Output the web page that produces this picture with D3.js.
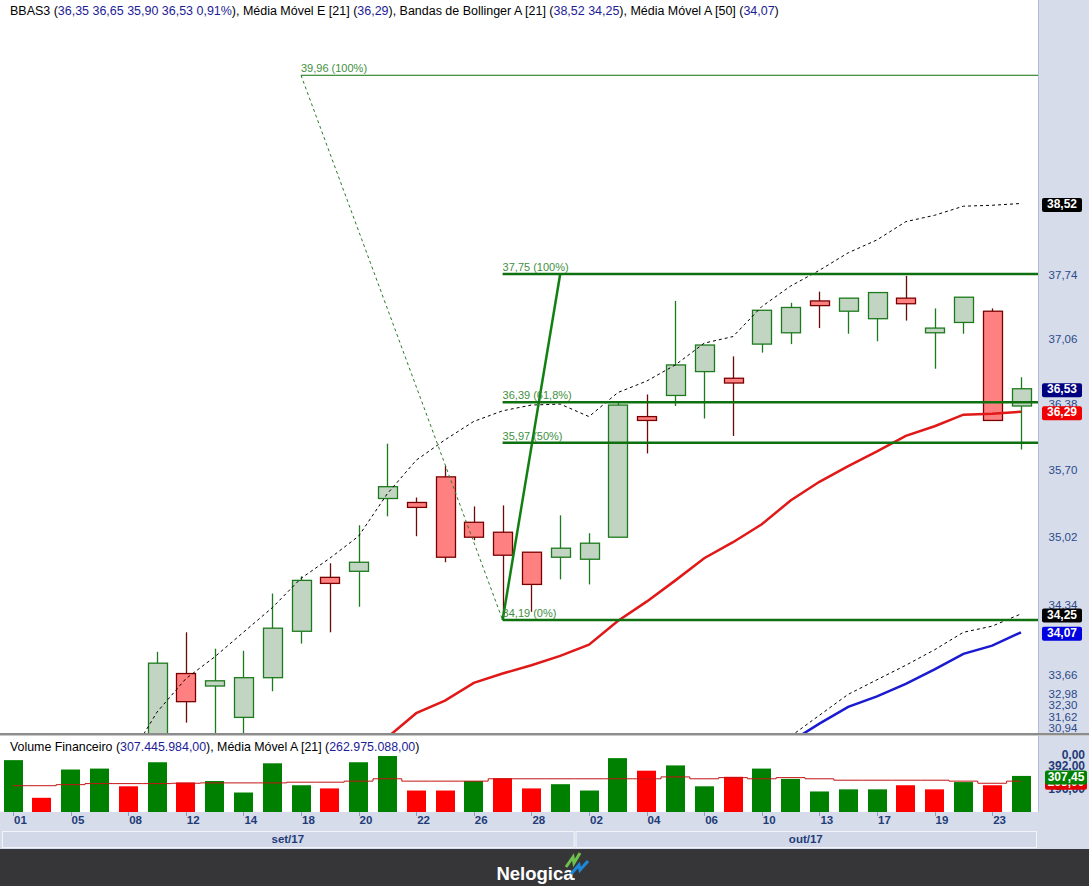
<!doctype html>
<html>
<head>
<meta charset="utf-8">
<script src="https://cdn.jsdelivr.net/npm/d3@7"></script>
<style>
  body { margin: 0; background: #fff; }
  text { font-family: "Liberation Sans", Arial, sans-serif; }
</style>
</head>
<body>
<svg id="chart" width="1089" height="886"></svg>
<script>
// trading days, set/17 .. out/17
const dates = ["01","04","05","06","08","11","12","13","14","15","18","19","20","21","22","25","26","27","28","29",
               "02","03","04","05","06","09","10","11","13","16","17","18","19","20","23","24"];
const months = [{ label: "set/17", first: 0, last: 19 }, { label: "out/17", first: 20, last: 35 }];

// candles (first five sit below the visible price range)
const open  = [null,null,null,null,null, 33.00,33.67,33.55,33.25,33.63,34.08,34.61,34.67,35.40,35.36,35.62,35.16,35.06,34.86,34.81,
               34.79,35.01,36.24,36.46,36.71,36.64,37.00,37.12,37.46,37.35,37.27,37.49,37.12,37.23,37.35,36.35];
const high  = [null,null,null,null,null, 33.88,34.07,33.91,33.89,34.45,34.62,34.75,35.13,35.96,35.41,35.73,35.32,35.33,34.86,35.23,
               35.05,36.38,36.47,37.46,36.99,36.87,37.36,37.44,37.56,37.49,37.55,37.73,37.38,37.50,37.38,36.65];
const low   = [null,null,null,null,null, 32.95,33.20,32.98,33.05,33.50,33.96,34.07,34.32,35.22,35.02,34.76,34.98,34.19,34.27,34.59,
               34.54,35.01,35.86,36.35,36.22,36.04,36.91,37.00,37.17,37.11,37.03,37.25,36.74,37.11,36.20,35.90];
const close = [null,null,null,null,null, 33.77,33.40,33.60,33.63,34.11,34.58,34.55,34.76,35.52,35.31,34.81,35.01,34.83,34.54,34.90,
               34.95,36.36,36.20,36.78,36.99,36.59,37.36,37.39,37.41,37.49,37.55,37.43,37.17,37.50,36.20,36.53];

// indicators
const ema21   = [null,null,null,null,null,null,null,null,null,null,null,null,null, 33.06,33.29,33.41,33.58,33.67,33.75,33.84,
                 33.95,34.18,34.37,34.58,34.80,34.96,35.14,35.38,35.57,35.73,35.88,36.04,36.14,36.26,36.27,36.29];
const bbUpper = [null,null,null,null, 32.85,33.30,33.62,33.83,34.07,34.31,34.60,34.80,35.02,35.45,35.79,36.00,36.19,36.30,36.36,36.37,
                 36.24,36.49,36.61,36.78,37.01,37.08,37.40,37.62,37.79,37.98,38.12,38.32,38.39,38.49,38.50,38.52];
const bbLower = [null,null,null,null,null,null,null,null,null,null,null,null,null,null,null,null,null,null,null,null,
                 null,null,null,null,null,null,null, 33.07,33.27,33.47,33.61,33.75,33.90,34.07,34.13,34.25];
const sma50   = [null,null,null,null,null,null,null,null,null,null,null,null,null,null,null,null,null,null,null,null,
                 null,null,null,null,null,null,null, 33.02,33.19,33.35,33.45,33.57,33.71,33.86,33.94,34.07];

// volume in millions
const volume = [442,121,362,370,219,424,252,264,166,415,228,201,424,477,183,183,264,288,201,237,
                183,459,352,397,219,300,370,282,175,193,193,228,193,255,228,307.45];
const volUp  = [1,0,1,1,0,1,0,1,1,1,1,0,1,1,0,0,1,0,0,1, 1,1,0,1,1,0,1,1,1,1,1,0,0,1,0,1];
const volMa  = [224,224,233,242,242,242,245,248,248,248,254,254,263,283,263,263,263,283,283,283,
                283,283,283,299,283,293,283,293,283,271,271,271,271,263,245,263];
const volHeader = ["307.445.984,00", "262.975.088,00"];

const priceTicks = [37.74, 37.06, 36.38, 35.70, 35.02, 34.34, 33.66, 32.98, 32.30, 31.62, 30.94];
const volTicks = [392, 196];

// fibonacci drawings: [index, price] anchors
const fibA = { from: [10, 39.96], to: [17, 34.19], levels: [1] };
const fibB = { from: [17, 34.19], to: [19, 37.75], levels: [1, 0.618, 0.5, 0] };

const svg = d3.select("#chart");
const W = 1089, H = 886;
const plotR = 1038, mainB = 733, volB = 812;
const lav = "#d6dcea", axisBlue = "#1f3b78";
const narrow = "'Liberation Sans Narrow','DejaVu Sans Condensed',sans-serif";
const fmt = v => d3.format(".2f")(v).replace(".", ",");

const x = d3.scaleBand().domain(d3.range(dates.length)).range([-1.4, 1035.4]);
const cx = i => x(i) + x.bandwidth() / 2;
const y = d3.scaleLog().domain([37.75, 34.19]).range([274, 620]);
const yv = d3.scaleLinear().domain([0, 392]).range([volB, 766]);

// backgrounds
svg.append("rect").attr("width", W).attr("height", H).attr("fill", "#fff");
svg.append("rect").attr("x", plotR).attr("y", 0).attr("width", W - plotR).attr("height", 812).attr("fill", lav);
svg.append("line").attr("x1", plotR + 0.5).attr("x2", plotR + 0.5).attr("y1", 0).attr("y2", 812).attr("stroke", "#b4bcd4");
svg.append("rect").attr("x", 0).attr("y", 812).attr("width", W).attr("height", 37).attr("fill", lav);
svg.append("rect").attr("x", 0).attr("y", 733).attr("width", W).attr("height", 2).attr("fill", "#8c8c8c");
svg.append("rect").attr("x", 0).attr("y", 735).attr("width", W).attr("height", 1).attr("fill", "#c8c8c8");
svg.append("rect").attr("x", 0).attr("y", 849).attr("width", W).attr("height", H - 849).attr("fill", "#363638");

svg.append("clipPath").attr("id", "mainClip").append("rect").attr("width", plotR).attr("height", mainB);
const main = svg.append("g").attr("clip-path", "url(#mainClip)");

// candles
const idx = d3.range(dates.length).filter(i => open[i] != null);
const candle = main.append("g").selectAll("g").data(idx).join("g");
candle.append("line")
  .attr("x1", i => Math.round(cx(i)) + 0.5).attr("x2", i => Math.round(cx(i)) + 0.5)
  .attr("y1", i => y(high[i])).attr("y2", i => y(low[i]))
  .attr("stroke", i => close[i] >= open[i] ? "#1c7a1c" : "#6a0a0a").attr("stroke-width", 1.3);
candle.append("rect")
  .attr("x", i => Math.round(cx(i) - 9.5) + 0.5).attr("width", 19)
  .attr("y", i => y(Math.max(open[i], close[i])))
  .attr("height", i => Math.max(1, Math.abs(y(open[i]) - y(close[i]))))
  .attr("fill", i => close[i] >= open[i] ? "#c2d5c2" : "#ff8080")
  .attr("stroke", i => close[i] >= open[i] ? "#1c7a1c" : "#7a0000").attr("stroke-width", 1.3);

// indicator lines
function series(arr, color, w, dash) {
  const line = d3.line().defined(d => d != null).x((d, i) => cx(i)).y(d => y(d));
  main.append("path").datum(arr).attr("d", line).attr("fill", "none")
    .attr("stroke", color).attr("stroke-width", w).attr("stroke-dasharray", dash || null);
}
series(bbUpper, "#000", 1, "3,3");
series(bbLower, "#000", 1, "3,3");
series(ema21, "#e01818", 2.5);
series(sma50, "#1a1ad0", 2.5);

// fibonacci
function fib(f, thick) {
  const [i0, p0] = f.from, [i1, p1] = f.to;
  main.append("line").attr("x1", cx(i0)).attr("y1", y(p0)).attr("x2", cx(i1)).attr("y2", y(p1))
    .attr("stroke", thick ? "#118011" : "#2a7a2a").attr("stroke-width", thick ? 2.5 : 1)
    .attr("stroke-dasharray", thick ? null : "3,3");
  const lo = Math.min(p0, p1), hi = Math.max(p0, p1);
  f.levels.forEach(l => {
    const v = lo + l * (hi - lo);
    const xs = Math.min(cx(i0), cx(i1));
    main.append("line").attr("x1", xs).attr("x2", plotR).attr("y1", y(v)).attr("y2", y(v))
      .attr("stroke", "#0e700e").attr("stroke-width", thick ? 2.5 : 1);
    main.append("text").attr("x", xs).attr("y", y(v) - 3)
      .attr("font-size", 11).attr("fill", "#3f8f3f")
      .text(`${fmt(v)} (${d3.format(".1~f")(l * 100).replace(".", ",")}%)`);
  });
}
fib(fibA, false);
fib(fibB, true);

// two-colour legend line, sized to the reference width
function legendText(xp, yp, width, parts) {
  const t = svg.append("text").attr("x", xp).attr("y", yp).attr("font-size", 14).attr("font-family", narrow);
  parts.forEach(([s, c]) => t.append("tspan").attr("fill", c).text(s));
  const w = t.node().getComputedTextLength();
  t.attr("font-size", 14 * width / w);
}
const L = close.length - 1;
const chg = (close[L] / close[L - 1] - 1) * 100;
legendText(10, 15, 770,
  [["BBAS3 (", "#000"], [`${fmt(open[L])}  ${fmt(high[L])}  ${fmt(low[L])}  ${fmt(close[L])}  ${fmt(chg)}%`, "#1c1c96"],
   ["), Média Móvel E [21] (", "#000"], [fmt(ema21[L]), "#1c1c96"],
   ["), Bandas de Bollinger A [21] (", "#000"], [`${fmt(bbUpper[L])}  ${fmt(bbLower[L])}`, "#1c1c96"],
   ["), Média Móvel A [50] (", "#000"], [fmt(sma50[L]), "#1c1c96"], [")", "#000"]]);

// price axis labels
const nT = priceTicks.length;
priceTicks.forEach((v, k) => {
  const yy = Math.min(y(v) + 1.5, 729 - (nT - 1 - k) * 11.3);
  svg.append("text").attr("x", 1063).attr("y", yy).attr("text-anchor", "middle")
    .attr("dominant-baseline", "middle").attr("font-size", 11.5).attr("fill", "#2b4a8a").text(fmt(v));
});
[[bbUpper[L], "#000"], [close[L], "#000080"], [ema21[L], "#f00000"], [bbLower[L], "#000"], [sma50[L], "#0000e0"]]
  .forEach(([v, c]) => {
    const yy = y(v) + 1.5;
    svg.append("rect").attr("x", 1042).attr("y", yy - 7).attr("width", 40).attr("height", 14).attr("rx", 2).attr("fill", c);
    svg.append("text").attr("x", 1062).attr("y", yy).attr("text-anchor", "middle").attr("dominant-baseline", "middle")
      .attr("font-size", 12).attr("font-weight", "bold").attr("fill", "#fff").text(fmt(v));
  });

// volume panel
svg.append("g").selectAll("rect").data(volume).join("rect")
  .attr("x", (d, i) => Math.round(cx(i) - 9.5)).attr("width", 19)
  .attr("y", d => yv(d)).attr("height", d => volB - yv(d))
  .attr("fill", (d, i) => volUp[i] ? "#008000" : "#ff0000");
svg.append("path").datum(volMa)
  .attr("d", d3.line().x((d, i) => cx(i)).y(d => yv(d)).curve(d3.curveStep))
  .attr("fill", "none").attr("stroke", "#c41414").attr("stroke-width", 1);

legendText(10, 751, 410,
  [["Volume Financeiro (", "#000"], [volHeader[0], "#1c1c96"], ["), Média Móvel A [21] (", "#000"],
   [volHeader[1], "#1c1c96"], [")", "#000"]]);

svg.append("text").attr("x", 1085).attr("y", 756).attr("text-anchor", "end").attr("dominant-baseline", "middle")
  .attr("font-size", 12).attr("font-weight", "bold").attr("fill", axisBlue).text("0,00");
volTicks.forEach(v => svg.append("text").attr("x", 1085).attr("y", yv(v) + 1).attr("text-anchor", "end")
  .attr("dominant-baseline", "middle").attr("font-size", 12).attr("font-weight", "bold").attr("fill", axisBlue).text(fmt(v)));
[[volMa[L], "#e00000"], [volume[L], "#008000"]].forEach(([v, c]) => {
  const yy = yv(v) + 1.5;
  svg.append("rect").attr("x", 1045).attr("y", yy - 7).attr("width", 42).attr("height", 14).attr("rx", 2).attr("fill", c);
  svg.append("text").attr("x", 1066).attr("y", yy).attr("text-anchor", "middle").attr("dominant-baseline", "middle")
    .attr("font-size", 12).attr("font-weight", "bold").attr("fill", "#fff").text(fmt(v));
});

// date axis
const labeled = d3.range(0, dates.length, 2);
svg.append("g").selectAll("line").data(labeled).join("line")
  .attr("x1", i => Math.round(cx(i)) + 0.5).attr("x2", i => Math.round(cx(i)) + 0.5)
  .attr("y1", 812).attr("y2", 816).attr("stroke", "#8e9cc0");
svg.append("g").selectAll("text").data(labeled).join("text")
  .attr("x", i => cx(i) + 1).attr("y", 821).attr("dominant-baseline", "middle")
  .attr("font-size", 11.5).attr("font-weight", "bold").attr("fill", axisBlue).text(i => dates[i]);

months.forEach(m => {
  const x0 = m.first === 0 ? 2 : x(m.first) + 1;
  const x1 = m.last === dates.length - 1 ? 1036 : x(m.last) + x.bandwidth() - 1;
  svg.append("rect").attr("x", x0 + 0.5).attr("y", 831.5).attr("width", x1 - x0).attr("height", 16)
    .attr("fill", "#d2d8e8").attr("stroke", "#f2f4fa");
  svg.append("text").attr("x", (x0 + x1) / 2).attr("y", 840).attr("text-anchor", "middle").attr("dominant-baseline", "middle")
    .attr("font-size", 11.5).attr("font-weight", "bold").attr("fill", axisBlue).text(m.label);
});

// footer brand
svg.append("text").attr("x", 535).attr("y", 880).attr("text-anchor", "middle")
  .attr("font-family", "'Open Sans',sans-serif").attr("font-weight", 600).attr("font-size", 18.5)
  .attr("fill", "#fff").text("Nelogica");
svg.append("circle").attr("cx", 574).attr("cy", 879).attr("r", 1).attr("fill", "#fff");
svg.append("path").attr("d", "M566,867 L573,857 L574,863 L580,853").attr("fill", "none")
  .attr("stroke", "#6cc24a").attr("stroke-width", 3);
svg.append("path").attr("d", "M571,874 L579,865 L580,870 L588,861").attr("fill", "none")
  .attr("stroke", "#1e88d8").attr("stroke-width", 3);
</script>
</body>
</html>
